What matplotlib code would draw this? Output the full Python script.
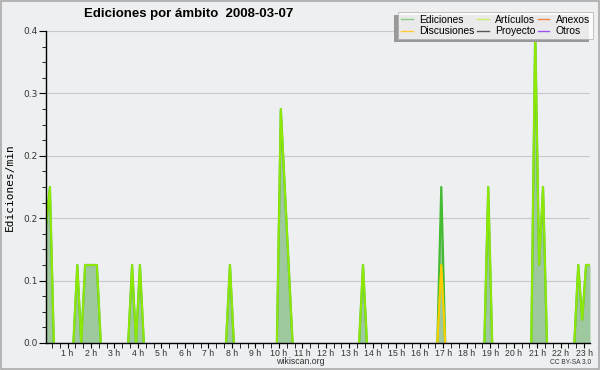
import numpy as np
import matplotlib
matplotlib.use("Agg")
import matplotlib.pyplot as plt
from matplotlib.ticker import FixedLocator, FormatStrFormatter, MultipleLocator
from matplotlib.patches import Rectangle

# 10-minute bins, 0:00 .. 23:10 (140 bins), values in edits/min
n_bins = 140
ediciones_pts = {0: 0.15, 1: 0.2, 8: 0.1, 10: 0.1, 11: 0.1, 12: 0.1, 13: 0.1,
                 22: 0.1, 24: 0.1, 47: 0.1, 60: 0.3, 61: 0.2, 62: 0.1,
                 81: 0.1, 101: 0.2, 113: 0.2, 125: 0.4, 126: 0.1, 127: 0.2,
                 136: 0.1, 137: 0.03, 138: 0.1, 139: 0.1}
articulos_pts = dict(ediciones_pts)
articulos_pts[101] = 0.1
discusiones_pts = {101: 0.1}

series_names = ["Ediciones", "Discusiones", "Artículos", "Proyecto", "Anexos", "Otros"]
series_colors = ["#88cc88", "#ffcc33", "#ccee66", "#555555", "#ee8844", "#9955ee"]
hour_labels = [f"{h} h" for h in range(1, 24)]
y_ticks = [0.0, 0.08, 0.16, 0.24, 0.32, 0.40]

def to_array(d):
    a = np.zeros(n_bins)
    for k, v in d.items():
        a[k] = v
    return a

def mask_flat_zero(a):
    nz = a != 0
    keep = nz.copy()
    keep[1:] |= nz[:-1]
    keep[:-1] |= nz[1:]
    return np.ma.masked_where(~keep, a)

ediciones = to_array(ediciones_pts)
articulos = to_array(articulos_pts)
discusiones = to_array(discusiones_pts)
hours = (np.arange(n_bins) + 0.5) / 6.0

bg = "#eeeff0"
fig = plt.figure(figsize=(6, 3.7), dpi=100, facecolor=bg)
ax = fig.add_axes([46/600, 1-343/370, (590-46)/600, (343-31)/370])
ax.set_facecolor(bg)

ax.fill_between(hours, 0, ediciones, color="#9ec89e", lw=0, zorder=2)
ax.plot(hours, mask_flat_zero(ediciones), color="#44bb33", lw=1.6, zorder=3)
ax.plot(hours, mask_flat_zero(articulos), color="#99ee00", lw=1.4, alpha=0.9, zorder=4)
ax.plot(hours, mask_flat_zero(discusiones), color="#ffcc00", lw=1.4, zorder=5)

ax.set_xlim(hours[0], hours[-1])
ax.set_ylim(0, 0.4)
ax.yaxis.set_major_locator(FixedLocator(y_ticks))
ax.yaxis.set_major_formatter(FormatStrFormatter("%.1f"))
ax.yaxis.set_minor_locator(MultipleLocator(0.02))
ax.set_xticks(range(1, 24))
ax.set_xticklabels(hour_labels)
ax.xaxis.set_minor_locator(MultipleLocator(1/3))
ax.grid(axis="y", color="#c8c8c8", lw=0.8, zorder=0)
ax.set_axisbelow(True)
for s in ["top", "right"]:
    ax.spines[s].set_visible(False)
for s in ["left", "bottom"]:
    ax.spines[s].set_linewidth(1.0)
    ax.spines[s].set_zorder(6)
ax.tick_params(axis="y", which="major", length=5, labelsize=6.5, labelcolor="#333333", pad=1)
ax.tick_params(axis="y", which="minor", length=3)
ax.tick_params(axis="x", which="both", length=3.5, pad=1)
for lab in ax.get_xticklabels():
    lab.set_fontsize(6.3)
    lab.set_color("#333333")
    lab.set_family("Liberation Sans")
ax.set_ylabel("Ediciones/min", family="DejaVu Sans Mono", fontsize=8, labelpad=6)

fig.text(189/600, 1-14/370, "Ediciones por ámbito  2008-03-07", ha="center", va="center",
         fontsize=9.5, fontweight="bold", family="Liberation Sans")
fig.text(300/600, 1-362/370, "wikiscan.org", ha="center", va="center", fontsize=6.3,
         color="#333333", family="Liberation Sans")
fig.text(591/600, 1-362/370, "CC BY-SA 3.0", ha="right", va="center", fontsize=4.8,
         color="#333333", family="Liberation Sans")

handles = [plt.Line2D([], [], color=c, lw=1) for c in series_colors]
leg = fig.legend(handles, series_names, ncol=3,
                 loc="upper right", bbox_to_anchor=(593/600, 1-12/370),
                 prop={"family": "Liberation Sans", "size": 7.4},
                 frameon=True, fancybox=False, shadow=False, handlelength=1.1,
                 handletextpad=0.6, columnspacing=0.3, labelspacing=0.12,
                 borderpad=0.3, borderaxespad=0)
leg.get_frame().set_edgecolor("#aaaaaa")
leg.get_frame().set_linewidth(0.6)
leg.get_frame().set_facecolor("white")
leg.set_zorder(10)

# legend shadow (lower-left)
fig.canvas.draw()
bb = leg.get_window_extent().transformed(fig.transFigure.inverted())
fig.patches.append(Rectangle((bb.x0 - 4/600, bb.y0 - 3/370), bb.width, bb.height,
                             transform=fig.transFigure, facecolor="#999999",
                             edgecolor="none", zorder=9))

fig.patches.append(Rectangle((0.0015, 0.002), 0.997, 0.996, transform=fig.transFigure,
                             fill=False, edgecolor="#aaaaaa", lw=1.2))

fig.savefig("out.png", dpi=100, facecolor=bg)
